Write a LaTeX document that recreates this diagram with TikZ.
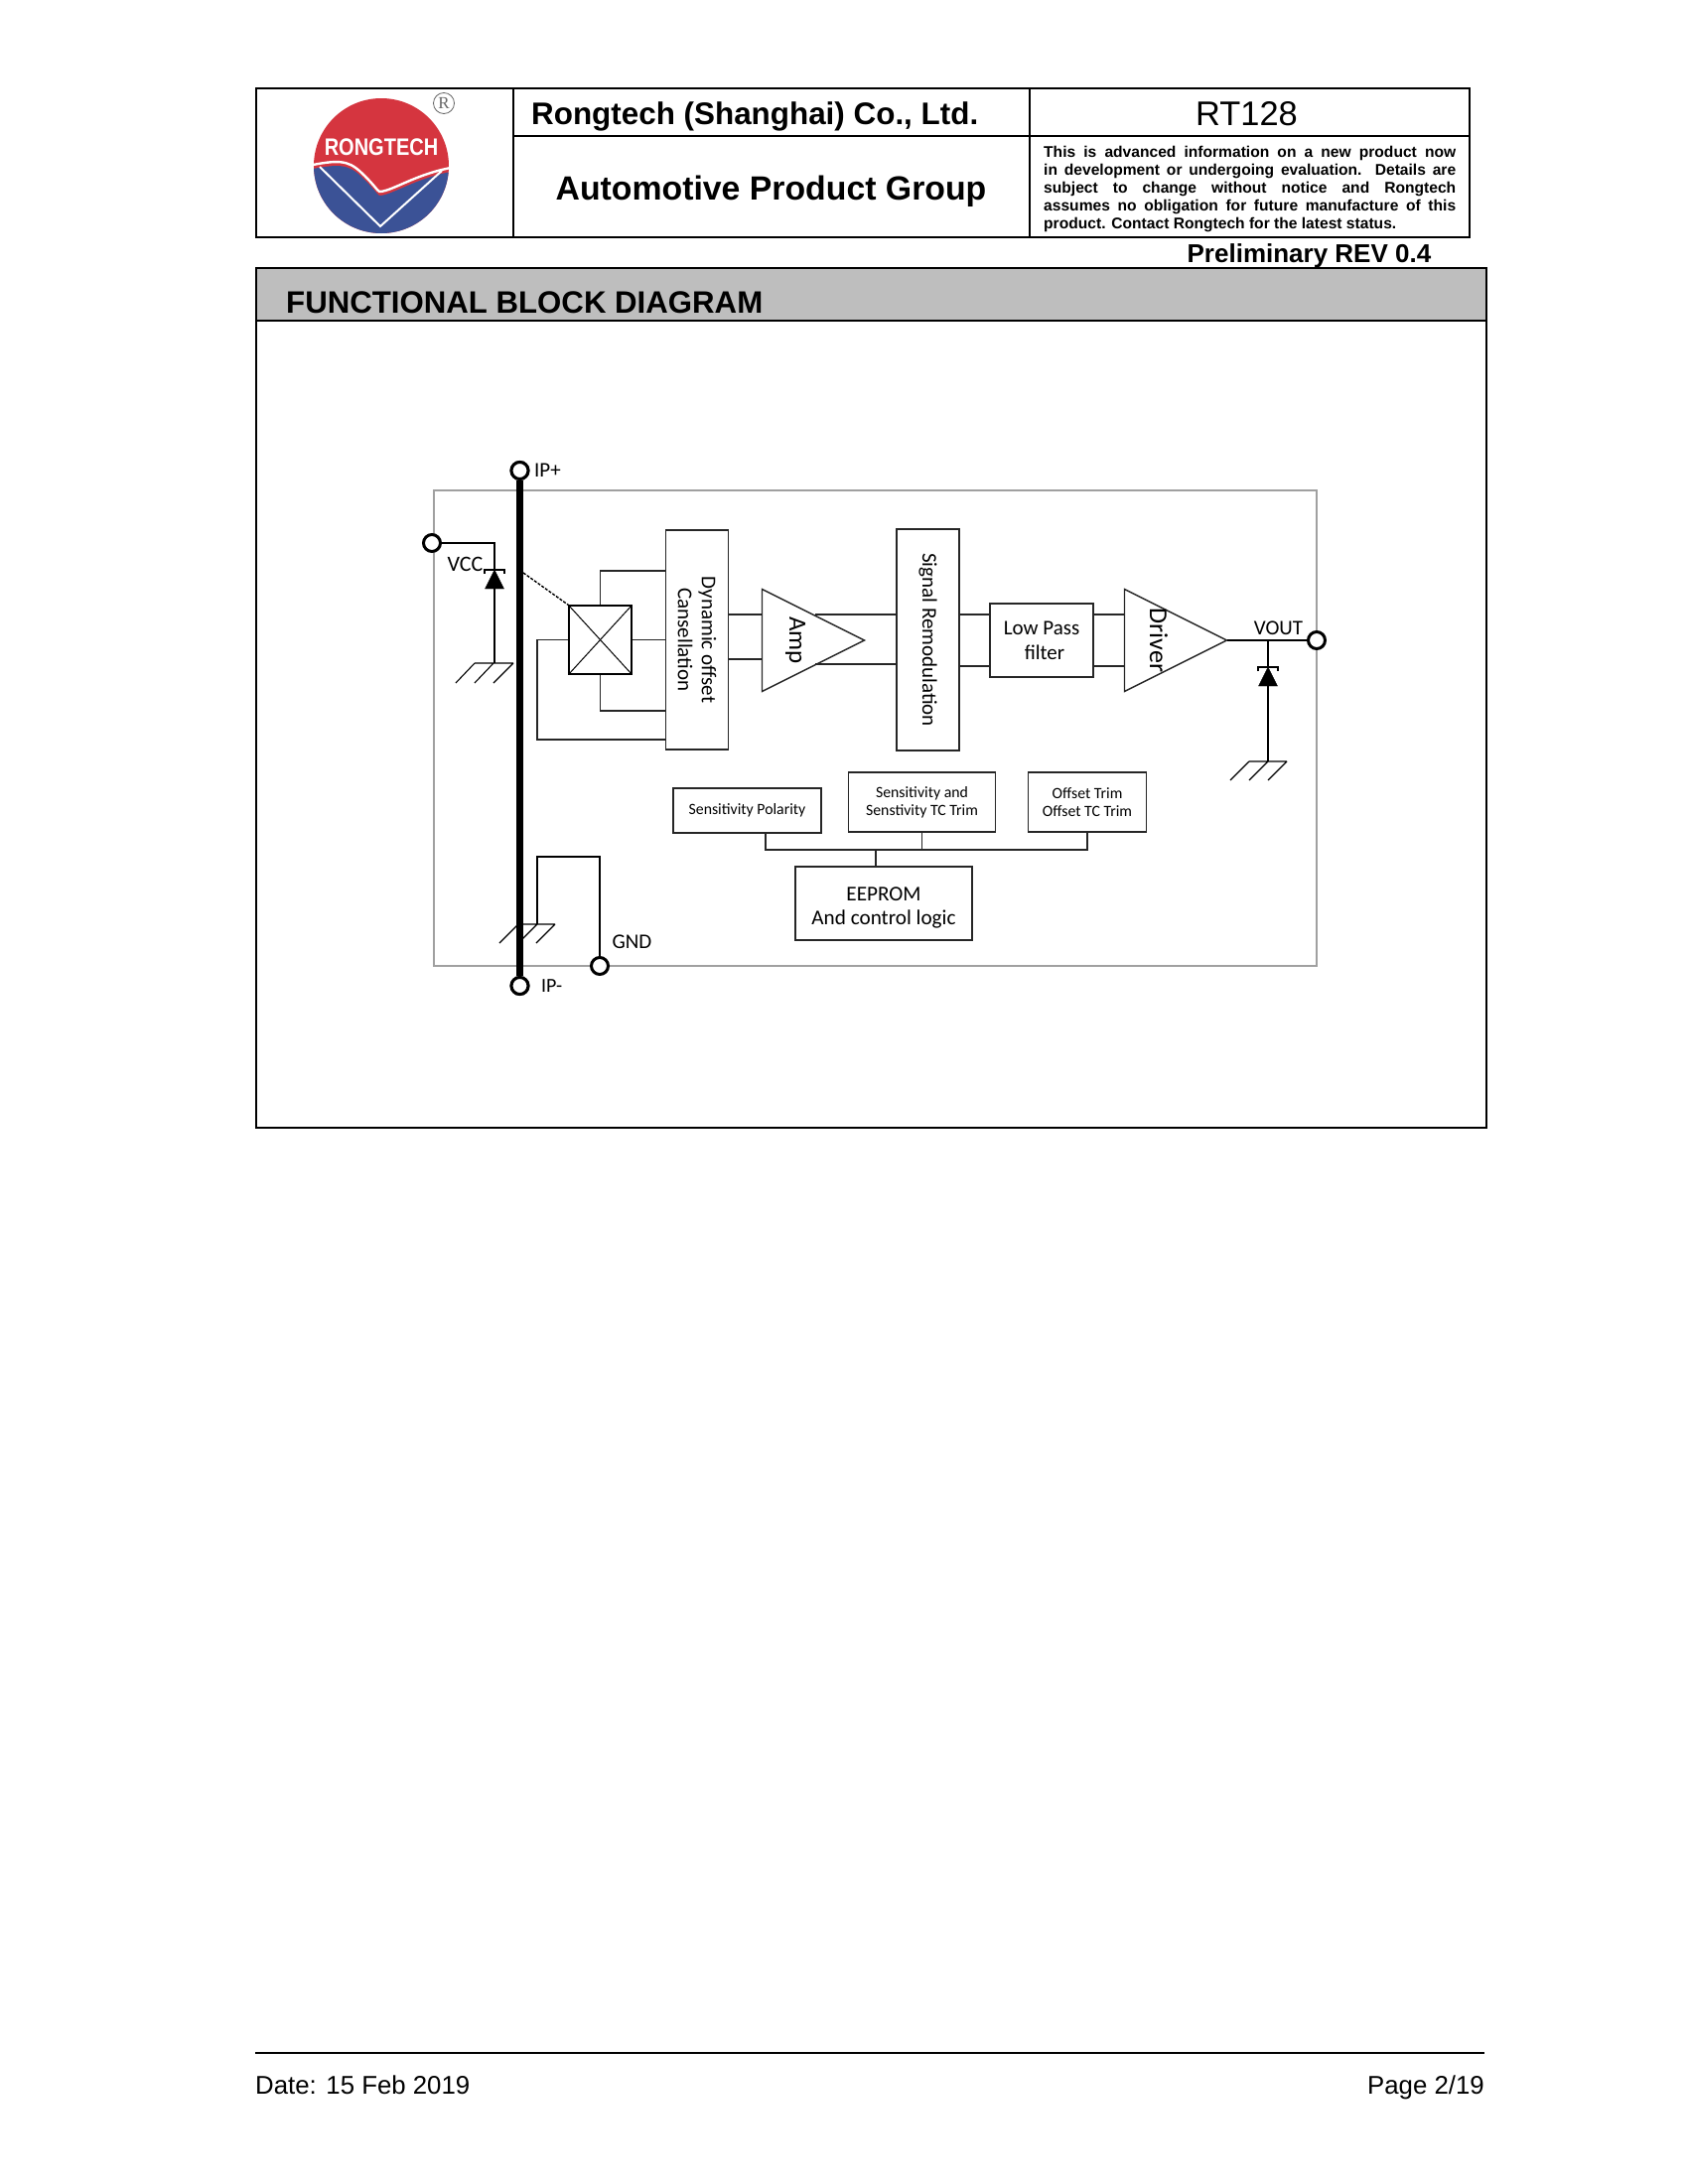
\documentclass[tikz,border=0pt]{standalone}
\usepackage{fontspec}
\setmainfont{Liberation Sans}
\newfontfamily\calfont{Carlito}
\newfontfamily\serffont{Liberation Serif}
\usetikzlibrary{positioning, shapes.geometric, calc}

\definecolor{logored}{HTML}{D5353F}
\definecolor{logoblue}{HTML}{3B5296}
\definecolor{bandgray}{HTML}{BEBEBE}
\definecolor{chipgray}{HTML}{A0A0A0}
\newcommand{\fsz}[1]{\fontsize{#1}{#1}\selectfont}

\begin{document}
\begin{tikzpicture}[x=1pt, y=-1pt,
    sheet/.style={draw=black, line width=1.5pt},
    head/.style={font=\fsz{31.4}\bfseries, inner sep=0pt},
    block/.style={draw=black!85, line width=1.4pt, inner sep=0pt, align=center, font=\calfont\fsz{21}},
    tinyblock/.style={block, font=\calfont\fsz{15.8}},
    amptri/.style={draw=black!85, line width=1.4pt, isosceles triangle, isosceles triangle stretches,
        minimum width=103pt, minimum height=103pt, inner sep=0pt, outer sep=0pt, anchor=lower side},
    pin/.style={circle, draw=black, line width=3pt, fill=white, minimum size=17pt, inner sep=0pt},
    lab/.style={inner sep=0pt, font=\calfont\fsz{21}},
    wire/.style={draw=black!85, line width=1.4pt},
    thinwire/.style={draw=black, line width=1pt},
    fwire/.style={draw=black, line width=1.1pt},
    diodetri/.style={fill=black, draw=black, isosceles triangle, isosceles triangle stretches, shape border rotate=90,
        minimum width=19pt, minimum height=19pt, inner sep=0pt, outer sep=0pt, anchor=apex}
]
\useasboundingbox (0,0) rectangle (1700,2200);

% Page header
\fill[bandgray] (258,270) rectangle (1497,323);
\draw[sheet] (258,89) rectangle (1480,239);
\draw[sheet] (517,89) -- (517,239);
\draw[sheet] (1037,89) -- (1037,239);
\draw[sheet] (517,137) -- (1480,137);
\draw[sheet] (258,270) rectangle (1497,1136);
\draw[sheet] (258,323) -- (1497,323);

% Logo
\begin{scope}
\clip (384,167) circle (68);
\fill[logored] (316,98) rectangle (452,235);
\fill[logoblue] (310,171) .. controls (340,165) and (350,165) .. (363,177)
    .. controls (375,188) and (380,196) .. (382,197)
    .. controls (395,197) and (420,178) .. (460,172) -- (460,240) -- (310,240) -- cycle;
\draw[white, line width=2.4pt] (310,167) .. controls (340,161) and (350,161) .. (363,173)
    .. controls (375,184) and (380,192) .. (382,193)
    .. controls (395,193) and (420,174) .. (460,168);
\draw[white, line width=2pt] (322,168) -- (383,228) -- (445,172);
\end{scope}
\node[inner sep=0pt, text=white, yscale=1.2, font=\fsz{20}\bfseries] (logotext) at (384,148) {RONGTECH};
\node[circle, draw=black!60, line width=0.8pt, minimum size=21pt, inner sep=0pt, text=black!60, font=\serffont\fsz{17}] (regmark) at (447,104) {R};

% Header texts
\node[head, anchor=west] (company) at (535,117.5) {Rongtech (Shanghai) Co., Ltd.};
\node[head, font=\fsz{34.4}] (partno) at (1255.5,115) {RT128};
\node[head, font=\fsz{33.8}\bfseries] (group) at (776.5,193) {Automotive Product Group};
\node[inner sep=0pt, anchor=north west, text width=415pt, align=justify, font=\fsz{15.6}\bfseries] (notice) at (1051,146.5)
    {\baselineskip=18pt This is advanced information on a new product now\linebreak
    in development or undergoing evaluation. Details are\linebreak
    subject to change without notice and Rongtech\linebreak
    assumes no obligation for future manufacture of this\linebreak
    product. Contact Rongtech for the latest status.\par};
\node[head, font=\fsz{26}\bfseries, anchor=east] (rev) at (1441.5,258) {Preliminary REV 0.4};
\node[head, font=\fsz{31.2}\bfseries, anchor=west] (title) at (288,305) {FUNCTIONAL BLOCK DIAGRAM};

% Chip outline
\draw[draw=chipgray, line width=1.5pt] (437,494) rectangle (1326,973);

% Blocks
\node[block, rotate=-90, minimum width=221pt, minimum height=63pt] (dynamic) at (702,644.5) {Dynamic offset\\[3pt]Cansellation};
\node[block, rotate=-90, minimum width=223pt, minimum height=63pt] (signal) at (934.5,644.5) {Signal Remodulation};
\node[block, minimum width=104pt, minimum height=74pt] (lowpass) at (1049,645) {Low Pass\\[4pt]\hspace*{6pt}filter};
\node[draw=black, line width=1.2pt, minimum width=63pt, minimum height=69pt, inner sep=0pt] (hall) at (604.5,644.5) {};
\node[amptri] (amp) at (767.5,645) {};
\node[amptri] (driver) at (1132.5,645) {};
\node[lab, rotate=-90, font=\calfont\fsz{25}] (amptext) at (801,645) {Amp};
\node[lab, rotate=-90, font=\calfont\fsz{26}] (drivertext) at (1167,645) {Driver};
\node[tinyblock, minimum width=149pt, minimum height=45pt] (polarity) at (752.5,816.5) {Sensitivity Polarity};
\node[tinyblock, minimum width=148pt, minimum height=60pt] (senstrim) at (928.5,808) {Sensitivity and\\[2.5pt]Senstivity TC Trim};
\node[tinyblock, minimum width=119pt, minimum height=60pt] (offset) at (1095,808) {Offset Trim\\[2.5pt]Offset TC Trim};
\node[block, minimum width=178pt, minimum height=74pt, font=\calfont\fsz{21.2}] (eeprom) at (890,910) {\rule{0pt}{22pt}EEPROM\\[3pt]And control logic};

% Pins
\node[pin] (ipplus) at (523.5,474) {};
\node[pin] (ipminus) at (523.5,993) {};
\node[pin] (vcc) at (435,547) {};
\node[pin] (gnd) at (604,973) {};
\node[pin] (vout) at (1326,645) {};

% Pin labels
\node[lab, anchor=west] (iplus) at (538,474) {IP+};
\node[lab, anchor=west, font=\calfont\fsz{20}] (iminus) at (545,993) {IP-};
\node[lab, font=\calfont\fsz{22}] (vcclabel) at (468.5,568) {VCC};
\node[lab] (gndlabel) at (636.5,949) {GND};
\node[lab] (voutlabel) at (1287.5,633) {VOUT};

% Helper points
\coordinate (upper) at (0,619);
\coordinate (lower) at (0,664);
\coordinate (lowerb) at (0,669);
\coordinate (lowerc) at (0,671);
\coordinate (ampup) at (821,619);
\coordinate (amplow) at (821,669);
\coordinate (dyntop) at (670,575);
\coordinate (dynbot) at (670,716);
\coordinate (dynloop) at (670,745);
\coordinate (loopleft) at (541,745);
\coordinate (vccgnd) at (498,668);
\coordinate (vccbar) at (498,574);
\coordinate (voutjoin) at (1277,645);
\coordinate (voutbar) at (1277,672);
\coordinate (voutgnd) at (1277,767);
\coordinate (gndgnd) at (541,931);
\coordinate (gndtop) at (541,863);
\coordinate (busright) at (1095,856);
\coordinate (busstem) at (882,856);
\coordinate (polout) at (771,838);
\coordinate (eepin) at (882,873);
\coordinate (current) at (527,577);

% Primary conductor
\draw[line width=7pt, black] (ipplus) -- (ipminus);
\node[pin] at (ipplus) {};
\node[pin] at (ipminus) {};

% Hall cell
\draw[thinwire] (hall.north west) -- (hall.south east);
\draw[thinwire] (hall.north east) -- (hall.south west);
\draw[dash pattern=on 3pt off 1.5pt, line width=1.4pt] (current) -- (hall.north west);
\draw[wire] (hall.north) |- (dyntop);
\draw[wire] (hall.south) |- (dynbot);
\draw[wire] (hall.east) -- (hall.east -| dynamic.south);
\draw[wire] (hall.west) -| (loopleft) -- (dynloop);

% Signal path
\draw[wire] (dynamic.north |- upper) -- (amp.lower side |- upper);
\draw[wire] (dynamic.north |- lower) -- (amp.lower side |- lower);
\draw[wire] (ampup) -- (signal.south |- upper);
\draw[wire] (amplow) -- (signal.south |- lowerb);
\draw[wire] (signal.north |- upper) -- (lowpass.west |- upper);
\draw[wire] (signal.north |- lowerc) -- (lowpass.west |- lowerc);
\draw[wire] (lowpass.east |- upper) -- (driver.lower side |- upper);
\draw[wire] (lowpass.east |- lowerc) -- (driver.lower side |- lowerc);
\draw[fwire] (driver.apex) -- (vout);

% Trim bus
\draw[wire] (polout) |- (busright) -- (offset.south);
\draw[wire] (senstrim.south) -- (senstrim.south |- busright);
\draw[wire] (eepin) -- (busstem);

% VCC clamp
\draw[fwire] (vcc) -| (vccbar);
\node[diodetri] (vccdiode) at (vccbar) {};
\draw[fwire] (vccdiode.lower side) -- (vccgnd);
\draw[fwire] (488,578) -- (488,574) -- (508,574) -- (508,578);
\draw[fwire] (478,668) -- (517,668) (478,668) -- (459,688) (497,668) -- (478,688) (517,668) -- (497,688);

% VOUT clamp
\draw[fwire] (voutjoin) -- (voutbar);
\node[diodetri] (voutdiode) at (voutbar) {};
\draw[fwire] (voutdiode.lower side) -- (voutgnd);
\draw[fwire] (1267,676) -- (1267,672) -- (1287,672) -- (1287,676);
\draw[fwire] (1258,767) -- (1296,767) (1258,767) -- (1239,786) (1277,767) -- (1258,786) (1296,767) -- (1277,786);

% GND
\draw[fwire] (gndgnd) -- (gndtop) -| (gnd);
\draw[fwire] (522,931) -- (559,931) (522,931) -- (503,950) (541,931) -- (522,950) (559,931) -- (540,950);

% Footer
\draw[line width=1.2pt] (257,2068) -- (1495,2068);
\node[inner sep=0pt, anchor=base west, font=\fsz{25.8}] (datetext) at (257,2109) {Date: 15 Feb 2019};
\node[inner sep=0pt, anchor=base east, font=\fsz{25.8}] (pagetext) at (1495,2109) {Page 2/19};
\end{tikzpicture}
\end{document}
